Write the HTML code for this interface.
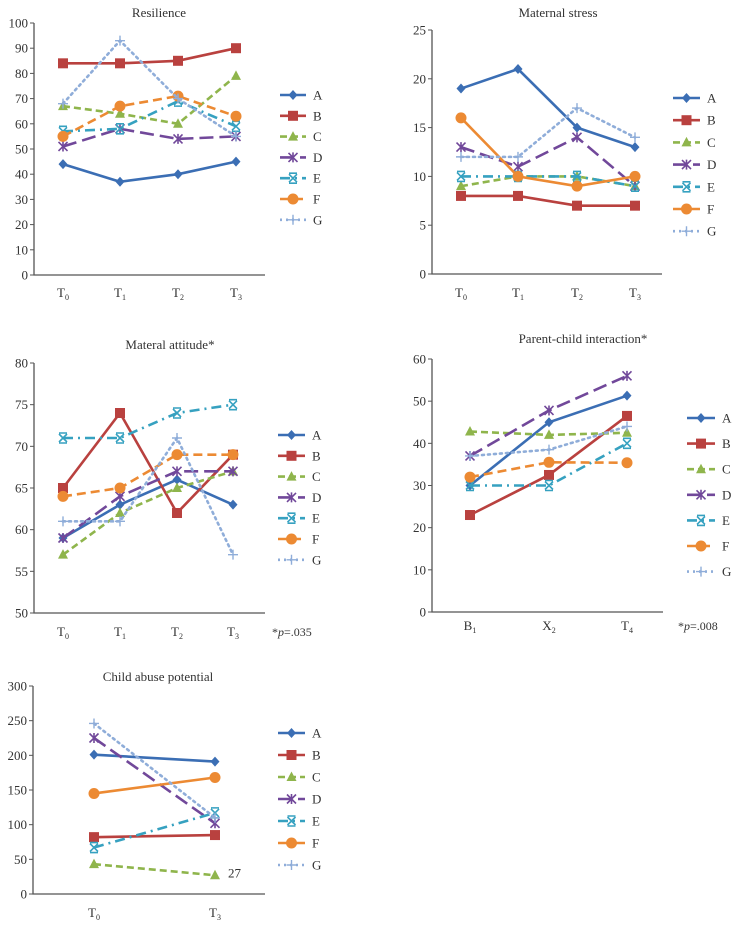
<!DOCTYPE html>
<html><head><meta charset="utf-8"><style>
html,body{margin:0;padding:0;background:#fff;}
svg{display:block;font-family:"Liberation Serif",serif;}
</style></head><body>
<svg id="root" width="745" height="929" viewBox="0 0 745 929"></svg>
<script>
// ---- data ----
const seriesNames = ["A","B","C","D","E","F","G"];
const resCats = ["T0","T1","T2","T3"];
const resA=[44,37,40,45], resB=[84,84,85,90], resC=[67,64,60,79], resD=[51,58,54,55], resE=[57,58,69,59], resF=[55,67,71,63], resG=[68,93,70,55];
const resTicks=[0,10,20,30,40,50,60,70,80,90,100];
const msCats = ["T0","T1","T2","T3"];
const msA=[19,21,15,13], msB=[8,8,7,7], msC=[9,10,10,9], msD=[13,11,14,9], msE=[10,10,10,9], msF=[16,10,9,10], msG=[12,12,17,14];
const msTicks=[0,5,10,15,20,25];
const maCats = ["T0","T1","T2","T3"];
const maA=[59,63,66,63], maB=[65,74,62,69], maC=[57,62,65,67], maD=[59,64,67,67], maE=[71,71,74,75], maF=[64,65,69,69], maG=[61,61,71,57];
const maTicks=[50,55,60,65,70,75,80];
const pcCats = ["B1","X2","T4"];
const pcA=[30,45,51.3], pcB=[23,32.5,46.5], pcC=[42.8,42,42.5], pcD=[37,47.8,56], pcE=[30,30,40], pcF=[32,35.5,35.4], pcG=[37,38.5,44];
const pcTicks=[0,10,20,30,40,50,60];
const caCats = ["T0","T3"];
const caA=[201,191], caB=[82,85], caC=[43,27], caD=[225,102], caE=[67,117], caF=[145,168], caG=[246,110];
const caTicks=[0,50,100,150,200,250,300];

const colors=["#3b6eb4","#b9413f","#8fb54c","#71489a","#36a1c0","#ec8a33","#8fadd9"];
const dashes=["","","7,4","14,6","10,5,2,5","9,5","2,4"];
const NS="http://www.w3.org/2000/svg";
const root=document.getElementById('root');
function mk(tag,attrs,parent){const e=document.createElementNS(NS,tag);for(const k in attrs)e.setAttribute(k,attrs[k]);(parent||root).appendChild(e);return e;}

function marker(g,i,x,y){
  const c=colors[i];let m;
  if(i===0){m=mk('polygon',{points:`${x},${y-5} ${x+4.5},${y} ${x},${y+5} ${x-4.5},${y}`,fill:c},g);}
  else if(i===1){m=mk('rect',{x:x-5,y:y-5,width:10,height:10,fill:c},g);}
  else if(i===2){m=mk('polygon',{points:`${x},${y-5.5} ${x+5},${y+4} ${x-5},${y+4}`,fill:c},g);}
  else if(i===3){m=mk('path',{d:`M${x-4.5},${y-4.5}L${x+4.5},${y+4.5}M${x+4.5},${y-4.5}L${x-4.5},${y+4.5}M${x},${y-5}L${x},${y+5}`,stroke:c,'stroke-width':1.6,fill:'none'},g);}
  else if(i===4){m=mk('path',{d:`M${x-4},${y-4}L${x+4},${y+4}M${x+4},${y-4}L${x-4},${y+4}M${x-4},${y-5}L${x+4},${y-5}M${x-4},${y+5}L${x+4},${y+5}`,stroke:c,'stroke-width':1.6,fill:'none'},g);}
  else if(i===5){m=mk('circle',{cx:x,cy:y,r:5.5,fill:c},g);}
  else {m=mk('path',{d:`M${x-5},${y}L${x+5},${y}M${x},${y-5}L${x},${y+5}`,stroke:c,'stroke-width':1.4,fill:'none'},g);}
  
  
}

function catLabel(g,x,y,lab){
  const t=mk('text',{x:x,y:y,'text-anchor':'middle','font-size':13,fill:'#333'},g);
  
  
  const a=mk('tspan',{},t);a.textContent=lab[0];
  const b=mk('tspan',{'font-size':8,dy:3},t);b.textContent=lab.slice(1);
}

function chart(o){
  const g=mk('g',{});
  
  
  const dsh=dashes.slice(); if(o.solidF) dsh[5]='';
  const t0=o.ticks[0],t1=o.ticks[o.ticks.length-1];
  const ys=v=>o.y0-(v-t0)/(t1-t0)*(o.y0-o.y1);
  const xs=i=>o.cx[i];
  const title=mk('text',{x:o.tx,y:o.ty,'text-anchor':'middle','font-size':13,fill:'#333'},g);
  title.textContent=o.title;
  
  
  const ax=mk('path',{d:`M${o.ax},${o.y1}L${o.ax},${o.y0}L${o.axEnd},${o.y0}`,stroke:'#555','stroke-width':1.3,fill:'none'},g);
  
  
  o.ticks.forEach(v=>{
    const y=ys(v);
    mk('line',{x1:o.ax-4,x2:o.ax,y1:y,y2:y,stroke:'#555','stroke-width':1},g);
    const tl=mk('text',{x:o.ax-6,y:y+4.5,'text-anchor':'end','font-size':13,fill:'#333'},g);
    tl.textContent=v;
    
    
  });
  o.cats.forEach((c,i)=>catLabel(g,xs(i),o.ly,c));
  o.series.forEach((s,i)=>{
    const pts=s.map((v,j)=>xs(j)+','+ys(v)).join(' ');
    const pl=mk('polyline',{points:pts,fill:'none',stroke:colors[i],'stroke-width':2.6,'stroke-dasharray':dsh[i]||'none','stroke-linecap':i===6?'round':'butt'},g);
    
    
    s.forEach((v,j)=>marker(g,i,xs(j),ys(v)));
  });
  const lg=mk('g',{},g);
  
  
  seriesNames.forEach((n,i)=>{
    const y=o.legY+i*o.legDy;
    const e=mk('g',{},lg);
    
    
    mk('line',{x1:o.legX,x2:o.legX+o.legW,y1:y,y2:y,stroke:colors[i],'stroke-width':2.6,'stroke-dasharray':dsh[i]||'none'},e);
    marker(e,i,o.legX+o.legW/2,y);
    const tx=mk('text',{x:o.legX+o.legW+7,y:y+4.5,'font-size':13,fill:'#333'},e);
    tx.textContent=n;
  });
  if(o.note){
    const nt=mk('text',{x:o.note[0],y:o.note[1],'font-size':12,fill:'#333'},g);
    
    
    const a=mk('tspan',{},nt);a.textContent='*';
    const b=mk('tspan',{'font-style':'italic'},nt);b.textContent='p';
    const c=mk('tspan',{},nt);c.textContent=o.note[2];
  }
  return {g,ys,xs};
}

chart({name:'resilience-chart',title:'Resilience',tx:159,ty:17,ax:34,axEnd:265,y0:275,y1:23,ticks:resTicks,cats:resCats,cx:[63,120,178,236],ly:297,
  series:[resA,resB,resC,resD,resE,resF,resG],legX:280,legW:26,legY:95,legDy:20.8});
chart({name:'maternal-stress-chart',title:'Maternal stress',tx:558,ty:17,ax:432,axEnd:662,y0:274,y1:30,ticks:msTicks,cats:msCats,cx:[461,518,577,635],ly:297,
  series:[msA,msB,msC,msD,msE,msF,msG],legX:673,legW:27,legY:98,legDy:22.2,solidF:true});
chart({name:'maternal-attitude-chart',title:'Materal attitude*',tx:170,ty:349,ax:34,axEnd:265,y0:613,y1:363,ticks:maTicks,cats:maCats,cx:[63,120,177,233],ly:636,
  series:[maA,maB,maC,maD,maE,maF,maG],legX:278,legW:27,legY:435,legDy:20.8,note:[272,636,'=.035']});
chart({name:'parent-child-interaction-chart',title:'Parent-child interaction*',tx:583,ty:343,ax:432,axEnd:663,y0:612,y1:359,ticks:pcTicks,cats:pcCats,cx:[470,549,627],ly:630,
  series:[pcA,pcB,pcC,pcD,pcE,pcF,pcG],legX:687,legW:28,legY:418,legDy:25.6,note:[678,630,'=.008']});
const ca=chart({name:'child-abuse-potential-chart',title:'Child abuse potential',tx:158,ty:681,ax:33,axEnd:265,y0:894,y1:686,ticks:caTicks,cats:caCats,cx:[94,215],ly:917,
  series:[caA,caB,caC,caD,caE,caF,caG],legX:278,legW:27,legY:733,legDy:22,solidF:true});
const lab=mk('text',{x:ca.xs(1)+13,y:ca.ys(caC[1])+2,'font-size':13,fill:'#333'},ca.g);
lab.textContent=caC[1];


</script>
</body></html>
